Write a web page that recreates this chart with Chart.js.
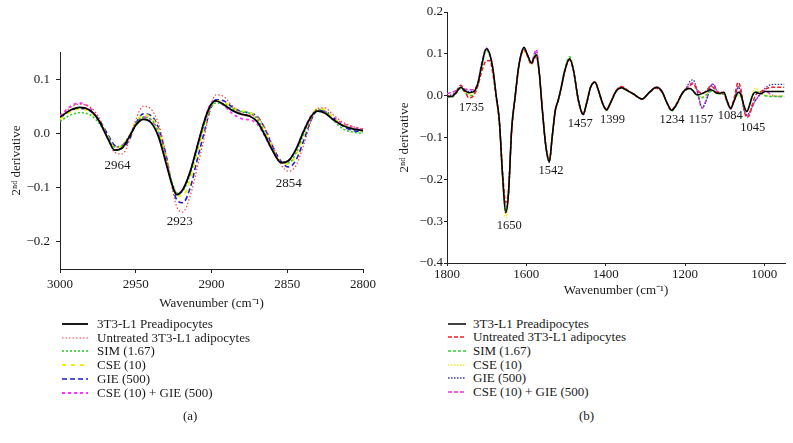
<!DOCTYPE html>
<html><head><meta charset="utf-8">
<script src="https://cdn.jsdelivr.net/npm/chart.js@4/dist/chart.umd.min.js"></script>
<style>
body{margin:0;background:#fff;width:793px;height:443px;position:relative;overflow:hidden;font-family:"Liberation Serif",serif;color:#1a1a1a;}
canvas{position:absolute;}
.row{position:absolute;white-space:nowrap;height:14px;line-height:14px;font-size:13px;}
.row svg{position:absolute;top:0;left:0;}
.cap{position:absolute;font-size:13px;line-height:15px;}
</style></head><body>
<canvas id="ca" width="385" height="320" style="left:0;top:0;width:385px;height:320px"></canvas>
<canvas id="cb" width="403" height="300" style="left:390px;top:0;width:403px;height:300px"></canvas>
<div id="legA"></div><div id="legB"></div>
<div class="cap" style="left:183px;top:408px">(a)</div>
<div class="cap" style="left:579px;top:408px">(b)</div>
<script>
// ---------- DATA ----------
const seriesNames = ["3T3-L1 Preadipocytes","Untreated 3T3-L1 adipocytes","SIM (1.67)","CSE (10)","GIE (500)","CSE (10) + GIE (500)"];

// Panel (a): 3000-2800 cm-1
const wavenumbersA = [3000,2993,2987,2980,2974,2968,2964,2959,2954,2950,2945,2940,2935,2930,2926,2923,2919,2914,2910,2905,2901,2897,2892,2886,2880,2875,2870,2865,2860,2854,2849,2844,2839,2834,2830,2825,2820,2813,2806,2800];
const preadipA = [0.030,0.043,0.048,0.042,0.022,-0.012,-0.031,-0.027,-0.005,0.015,0.026,0.020,-0.006,-0.055,-0.095,-0.113,-0.104,-0.070,-0.030,0.020,0.050,0.060,0.053,0.042,0.035,0.032,0.022,-0.002,-0.030,-0.054,-0.050,-0.028,0.005,0.032,0.041,0.037,0.026,0.014,0.008,0.005];
const untreatedA = [0.030,0.048,0.054,0.048,0.028,-0.012,-0.035,-0.038,-0.012,0.025,0.050,0.045,0.018,-0.040,-0.100,-0.135,-0.145,-0.115,-0.070,-0.010,0.045,0.071,0.068,0.050,0.036,0.034,0.030,0.012,-0.020,-0.058,-0.070,-0.058,-0.020,0.025,0.046,0.047,0.035,0.020,0.012,0.008];
const simA = [0.022,0.034,0.038,0.034,0.018,-0.010,-0.025,-0.022,-0.003,0.018,0.030,0.026,0.002,-0.048,-0.090,-0.110,-0.106,-0.075,-0.035,0.015,0.045,0.056,0.054,0.045,0.040,0.037,0.027,0.002,-0.028,-0.054,-0.054,-0.035,0.000,0.032,0.044,0.040,0.025,0.008,0.002,0.000];
const cseA = [0.026,0.040,0.045,0.040,0.022,-0.008,-0.026,-0.024,-0.004,0.020,0.034,0.030,0.005,-0.045,-0.092,-0.115,-0.115,-0.085,-0.042,0.010,0.045,0.060,0.057,0.047,0.041,0.038,0.030,0.005,-0.026,-0.054,-0.056,-0.038,-0.002,0.032,0.046,0.043,0.030,0.015,0.008,0.004];
const gieA = [0.028,0.042,0.046,0.041,0.024,-0.004,-0.022,-0.026,-0.010,0.018,0.036,0.033,0.010,-0.040,-0.095,-0.122,-0.128,-0.100,-0.055,0.000,0.042,0.062,0.060,0.048,0.040,0.038,0.032,0.010,-0.022,-0.052,-0.062,-0.048,-0.012,0.026,0.042,0.041,0.030,0.013,0.005,0.003];
const cseGieA = [0.032,0.050,0.056,0.046,0.022,-0.010,-0.025,-0.022,-0.004,0.018,0.030,0.025,0.000,-0.050,-0.092,-0.110,-0.104,-0.070,-0.030,0.020,0.052,0.062,0.052,0.036,0.027,0.025,0.018,-0.004,-0.030,-0.054,-0.050,-0.028,0.006,0.034,0.043,0.040,0.030,0.018,0.011,0.008];

// Band labels of panel (a): text, and where the text sits (wavenumber, 2nd-derivative value)
const bandTextA = ["2964","2923","2854"];
const bandXA = [2962,2921,2849];
const bandYA = [-0.060,-0.163,-0.092];

// Panel (b): 1800-950 cm-1
const wavenumbersB = [1800,1788,1778,1765,1755,1745,1738,1730,1722,1712,
 1701,1692,1684,1676,1668,1660,1652,1645,1637,1628,
 1620,1613,1606,1598,1587,1580,1575,1568,1560,1551,
 1542,1535,1527,1520,1512,1503,1491,1481,1470,1464,
 1457,1448,1438,1427,1418,1408,1398,1388,1374,1360,
 1345,1330,1308,1290,1272,1258,1245,1234,1222,1208,
 1196,1187,1180,1170,1157,1146,1136,1129,1120,1112,
 1102,1094,1085,1076,1066,1058,1052,1044,1037,1030,
 1023,1015,1008,998,985,970,950];
const preadipB = [-0.002,-0.002,0.006,0.020,0.012,0.007,0.008,0.012,0.030,0.075,
 0.112,0.098,0.062,0.000,-0.060,-0.190,-0.280,-0.235,-0.080,0.000,
 0.065,0.100,0.116,0.100,0.078,0.092,0.098,0.060,-0.030,-0.120,
 -0.158,-0.100,-0.035,-0.012,0.020,0.060,0.088,0.060,-0.005,-0.030,
 -0.045,-0.018,0.020,0.032,0.012,-0.018,-0.034,-0.018,0.010,0.019,
 0.012,0.004,-0.008,0.008,0.020,0.010,-0.018,-0.035,-0.022,0.004,
 0.016,0.017,0.012,0.002,0.005,0.010,0.014,0.012,0.006,0.006,
 0.008,-0.012,-0.030,-0.012,0.008,0.000,-0.022,-0.038,-0.022,0.000,
 0.008,0.006,0.005,0.010,0.010,0.010,0.010];
const untreatedB = [0.000,-0.002,0.008,0.025,0.010,-0.005,-0.004,0.005,0.024,0.060,
 0.083,0.084,0.050,-0.005,-0.065,-0.180,-0.255,-0.225,-0.085,-0.004,
 0.062,0.097,0.110,0.096,0.075,0.088,0.095,0.058,-0.030,-0.118,
 -0.155,-0.100,-0.036,-0.013,0.018,0.058,0.085,0.058,-0.006,-0.030,
 -0.044,-0.018,0.020,0.033,0.012,-0.017,-0.032,-0.016,0.012,0.022,
 0.013,0.004,-0.008,0.007,0.018,0.008,-0.018,-0.034,-0.020,0.004,
 0.015,0.025,0.028,0.015,0.005,0.012,0.022,0.020,0.008,0.008,
 0.006,-0.014,-0.030,-0.005,0.032,0.010,-0.030,-0.052,-0.045,-0.020,
 0.000,0.008,0.010,0.015,0.020,0.020,0.020];
const simB = [-0.003,-0.004,0.004,0.018,0.008,0.000,0.000,0.008,0.028,0.072,
 0.108,0.096,0.060,-0.002,-0.062,-0.190,-0.275,-0.232,-0.082,0.000,
 0.064,0.098,0.110,0.098,0.080,0.090,0.095,0.058,-0.030,-0.118,
 -0.155,-0.098,-0.034,-0.012,0.022,0.064,0.093,0.062,-0.004,-0.028,
 -0.044,-0.016,0.022,0.032,0.010,-0.018,-0.035,-0.018,0.010,0.018,
 0.011,0.004,-0.008,0.008,0.019,0.009,-0.020,-0.037,-0.024,0.004,
 0.015,0.017,0.010,0.002,-0.005,0.002,0.010,0.012,0.005,0.004,
 0.004,-0.014,-0.030,-0.012,0.003,-0.005,-0.025,-0.038,-0.020,0.000,
 0.010,0.008,0.005,0.000,-0.002,-0.002,-0.002];
const cseB = [-0.002,-0.003,0.005,0.019,0.010,0.004,0.004,0.010,0.029,0.073,
 0.110,0.097,0.060,-0.002,-0.065,-0.200,-0.292,-0.240,-0.082,0.000,
 0.064,0.098,0.108,0.095,0.074,0.092,0.100,0.060,-0.030,-0.120,
 -0.156,-0.098,-0.034,-0.012,0.020,0.062,0.090,0.060,-0.005,-0.030,
 -0.044,-0.017,0.021,0.033,0.012,-0.018,-0.034,-0.016,0.011,0.020,
 0.012,0.004,-0.008,0.008,0.020,0.010,-0.018,-0.035,-0.022,0.004,
 0.016,0.018,0.012,0.003,-0.003,0.004,0.012,0.012,0.006,0.005,
 0.005,-0.013,-0.030,-0.012,0.005,-0.003,-0.024,-0.038,-0.018,0.005,
 0.018,0.012,0.006,0.002,0.000,0.000,0.000];
const gieB = [0.000,0.002,0.008,0.018,0.012,0.010,0.010,0.013,0.030,0.075,
 0.112,0.099,0.062,0.000,-0.062,-0.190,-0.275,-0.232,-0.080,0.000,
 0.065,0.100,0.112,0.098,0.078,0.095,0.102,0.062,-0.030,-0.122,
 -0.160,-0.102,-0.036,-0.013,0.019,0.060,0.087,0.060,-0.005,-0.030,
 -0.046,-0.019,0.020,0.032,0.012,-0.018,-0.034,-0.017,0.010,0.019,
 0.012,0.004,-0.008,0.008,0.020,0.010,-0.018,-0.035,-0.022,0.005,
 0.020,0.035,0.038,0.015,-0.028,-0.010,0.020,0.027,0.012,0.005,
 0.004,-0.015,-0.032,-0.010,0.020,0.000,-0.030,-0.046,-0.040,-0.025,
 -0.012,-0.002,0.008,0.018,0.026,0.027,0.027];
const cseGieB = [0.005,0.008,0.012,0.018,0.016,0.014,0.014,0.016,0.032,0.080,
 0.114,0.100,0.063,0.000,-0.062,-0.190,-0.275,-0.232,-0.080,0.000,
 0.065,0.100,0.112,0.098,0.078,0.100,0.110,0.065,-0.030,-0.120,
 -0.156,-0.100,-0.035,-0.012,0.020,0.060,0.088,0.060,-0.005,-0.030,
 -0.046,-0.018,0.020,0.033,0.012,-0.018,-0.034,-0.017,0.011,0.021,
 0.012,0.004,-0.008,0.008,0.021,0.010,-0.018,-0.035,-0.022,0.005,
 0.018,0.028,0.030,0.012,-0.030,-0.010,0.022,0.028,0.012,0.005,
 0.004,-0.015,-0.032,-0.010,0.022,0.000,-0.030,-0.048,-0.040,-0.025,
 -0.012,-0.002,0.006,0.012,0.004,-0.002,-0.002];

// Band labels of panel (b)
const bandTextB = ["1735","1650","1542","1457","1399","1234","1157","1084","1045"];
const bandXB = [1738,1643,1538,1464,1383,1233,1160,1086,1029];
const bandYB = [-0.030,-0.311,-0.180,-0.068,-0.057,-0.057,-0.057,-0.049,-0.076];

const xTicksA = [3000,2950,2900,2850,2800];
const yTicksA = [-0.2,-0.1,0.0,0.1];
const xTicksB = [1800,1600,1400,1200,1000];
const yTicksB = [-0.4,-0.3,-0.2,-0.1,0.0,0.1,0.2];

// ---------- STYLES ----------
const stylesA = [
  {color:'#000000', width:1.8, dash:[]},
  {color:'#ff3b3b', width:1.2, dash:[1.5,2]},
  {color:'#22cc22', width:1.5, dash:[2,2]},
  {color:'#f0ee10', width:2.0, dash:[4,5]},
  {color:'#1a1acc', width:1.6, dash:[5,3]},
  {color:'#ff33ff', width:1.8, dash:[3,3]}
];
const stylesB = [
  {color:'#000000', width:1.5, dash:[]},
  {color:'#ee2222', width:1.5, dash:[4,2]},
  {color:'#33cc33', width:1.5, dash:[3,2]},
  {color:'#eeee22', width:1.5, dash:[1.5,1.5]},
  {color:'#3333bb', width:1.3, dash:[1.5,1.5]},
  {color:'#dd33dd', width:1.5, dash:[4,2]}
];

const FONT = {family:'"Liberation Serif", serif', size:13};
const TXT = '#1a1a1a';
const fmtY = v => (v < -1e-9 ? '\u2212' : '') + Math.abs(v).toFixed(1);

const bandLabelPlugin = {
  id:'bandLabels',
  afterDatasetsDraw(chart, args, opts){
    const ctx = chart.ctx, xs = chart.scales.x, ys = chart.scales.y;
    ctx.save();
    ctx.fillStyle = TXT;
    ctx.font = opts.size + 'px "Liberation Serif", serif';
    ctx.textAlign = 'center';
    ctx.textBaseline = 'middle';
    opts.texts.forEach((t,i)=>{
      ctx.fillText(t, xs.getPixelForValue(opts.xs[i]), ys.getPixelForValue(opts.ys[i]));
    });
    ctx.restore();
  }
};

function makeChart(canvasId, xs, seriesVals, styles, o){
  const datasets = seriesVals.map((vals,i)=>({
    label: seriesNames[i],
    data: xs.map((x,j)=>({x:x, y:vals[j]})),
    borderColor: styles[i].color,
    borderWidth: styles[i].width,
    borderDash: styles[i].dash,
    pointRadius:0, fill:false, cubicInterpolationMode:'monotone'
  }));
  return new Chart(document.getElementById(canvasId), {
    type:'line',
    data:{datasets},
    plugins:[bandLabelPlugin],
    options:{
      responsive:false, animation:false, devicePixelRatio:1,
      layout:{padding:o.padding},
      plugins:{legend:{display:false}, tooltip:{enabled:false},
        bandLabels:{texts:o.bandText, xs:o.bandX, ys:o.bandY, size:o.bandSize}},
      scales:{
        x:{type:'linear', reverse:true, min:o.xmin, max:o.xmax,
          afterBuildTicks:s=>{s.ticks = o.xticks.map(v=>({value:v}));},
          afterFit:s=>{s.height=o.xh; s.paddingLeft=0; s.paddingRight=0; s.paddingTop=0; s.paddingBottom=0;},
          grid:{drawOnChartArea:false, drawTicks:true, tickLength:o.tl, color:'#222', lineWidth:1},
          border:{display:true, color:'#222', width:1},
          ticks:{color:TXT, font:FONT, padding:o.xpad, maxRotation:0, autoSkip:false, callback:v=>String(v)},
          title:{display:true, text:'Wavenumber (cm\u207B\u00B9)', color:TXT, font:FONT, padding:{top:0, bottom:o.xtp}}
        },
        y:{type:'linear', min:o.ymin, max:o.ymax,
          afterBuildTicks:s=>{s.ticks = o.yticks.map(v=>({value:v}));},
          afterFit:s=>{s.width=o.yw; s.paddingTop=0; s.paddingBottom=0; s.paddingLeft=0; s.paddingRight=0;},
          grid:{drawOnChartArea:false, drawTicks:true, tickLength:o.tl, color:'#222', lineWidth:1},
          border:{display:true, color:'#222', width:1},
          ticks:{color:TXT, font:FONT, padding:o.ypad, autoSkip:false, callback:fmtY},
          title:{display:true, text:'2\u207F\u1D48 derivative', color:TXT, font:FONT, padding:{top:o.ytp, bottom:0}}
        }
      }
    }
  });
}

makeChart('ca', wavenumbersA, [preadipA, untreatedA, simA, cseA, gieA, cseGieA], stylesA, {
  padding:{left:0, top:52, right:22, bottom:4},
  xmin:2800, xmax:3000, ymin:-0.25, ymax:0.15,
  xticks:xTicksA, yticks:yTicksA, xh:47, yw:60, tl:4, xpad:4, ypad:6, xtp:5, ytp:9,
  bandText:bandTextA, bandX:bandXA, bandY:bandYA, bandSize:13
});
makeChart('cb', wavenumbersB, [preadipB, untreatedB, simB, cseB, gieB, cseGieB], stylesB, {
  padding:{left:0, top:12, right:8, bottom:2},
  xmin:948, xmax:1800, ymin:-0.4, ymax:0.2,
  xticks:xTicksB, yticks:yTicksB, xh:35, yw:57, tl:3, xpad:1, ypad:1, xtp:0, ytp:7,
  bandText:bandTextB, bandX:bandXB, bandY:bandYB, bandSize:12.5
});

function buildLegend(id, lineLeft, lineW, textLeft, top0, styles){
  const host = document.getElementById(id);
  seriesNames.forEach((name,i)=>{
    const cy = top0 + i*13.7;
    const s = styles[i];
    const row = document.createElement('div');
    row.className = 'row';
    row.style.left = lineLeft + 'px';
    row.style.top = (cy - 7) + 'px';
    const svgNS = 'http://www.w3.org/2000/svg';
    const svg = document.createElementNS(svgNS,'svg');
    svg.setAttribute('width', lineW); svg.setAttribute('height', 14);
    const ln = document.createElementNS(svgNS,'line');
    ln.setAttribute('x1',0); ln.setAttribute('y1',7); ln.setAttribute('x2',lineW); ln.setAttribute('y2',7);
    ln.setAttribute('stroke', s.color); ln.setAttribute('stroke-width', s.width);
    if (s.dash.length) ln.setAttribute('stroke-dasharray', s.dash.join(' '));
    svg.appendChild(ln);
    row.appendChild(svg);
    const sp = document.createElement('span');
    sp.style.position = 'absolute'; sp.style.left = (textLeft - lineLeft) + 'px'; sp.style.top = '0';
    sp.textContent = name;
    row.appendChild(sp);
    host.appendChild(row);
  });
}
buildLegend('legA', 62, 26, 97, 324, stylesA);
buildLegend('legB', 448, 18, 473, 323.5, stylesB);
</script>
</body></html>
